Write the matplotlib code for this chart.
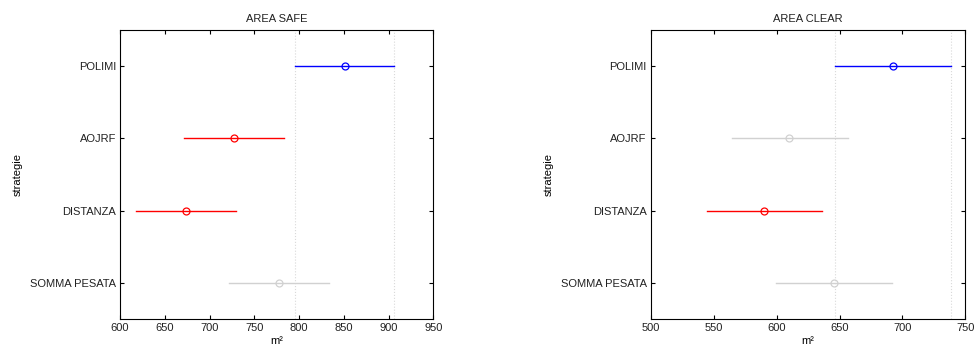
import matplotlib
matplotlib.use("Agg")
import matplotlib.pyplot as plt

strategie = ["POLIMI", "AOJRF", "DISTANZA", "SOMMA PESATA"]

# AREA SAFE
safe_mean = [851.5, 727.0, 673.5, 778.0]
safe_lo = [795.5, 671.5, 618.0, 722.0]
safe_hi = [906.5, 783.0, 729.5, 833.0]
safe_col = ["blue", "red", "red", "grey"]

# AREA CLEAR
clear_mean = [692.5, 610.0, 590.0, 645.5]
clear_lo = [646.5, 564.5, 544.5, 599.5]
clear_hi = [738.5, 656.5, 636.0, 691.5]
clear_col = ["blue", "grey", "red", "grey"]

colors = {"blue": (0, 0, 1), "red": (1, 0, 0), "grey": (0.82, 0.82, 0.82)}

plt.rcParams['font.family'] = ['Liberation Sans', 'DejaVu Sans']
plt.rcParams['font.size'] = 8
plt.rcParams['text.color'] = '#222222'

fig = plt.figure(figsize=(9.76, 3.49), dpi=100)
ax1 = fig.add_axes([0.123, 0.086, 0.321, 0.828])
ax2 = fig.add_axes([0.667, 0.086, 0.322, 0.828])


def draw(ax, mean, lo, hi, cols, title, xlim, xticks):
    ypos = list(range(1, len(strategie) + 1))
    for i in range(len(strategie)):
        c = colors[cols[i]]
        ax.plot([lo[i], hi[i]], [ypos[i], ypos[i]], color=c, lw=1)
        ax.plot(mean[i], ypos[i], 'o', mfc='none', mec=c, ms=5, mew=0.9)
    # dotted lines at the bounds of the selected group
    ax.axvline(lo[0], color=(0.85, 0.85, 0.85), ls=':', lw=0.8, zorder=0)
    ax.axvline(hi[0], color=(0.85, 0.85, 0.85), ls=':', lw=0.8, zorder=0)
    ax.set_ylim(len(strategie) + 0.5, 0.5)
    ax.set_yticks(ypos)
    ax.set_yticklabels(strategie)
    ax.set_xlim(xlim)
    ax.set_xticks(xticks)
    ax.tick_params(direction='in', top=True, right=True, length=3, width=0.8,
                   colors='black', labelcolor='#222222', labelsize=8, pad=3)
    for s in ax.spines.values():
        s.set_linewidth(0.8)
    ax.set_title(title, fontsize=8, pad=6)
    ax.set_xlabel("m²", fontsize=8, labelpad=2)
    ax.set_ylabel("strategie", fontsize=8, labelpad=5)


draw(ax1, safe_mean, safe_lo, safe_hi, safe_col, "AREA SAFE", (600, 950),
     range(600, 951, 50))
draw(ax2, clear_mean, clear_lo, clear_hi, clear_col, "AREA CLEAR", (500, 750),
     range(500, 751, 50))

fig.savefig("out.png", dpi=100)
